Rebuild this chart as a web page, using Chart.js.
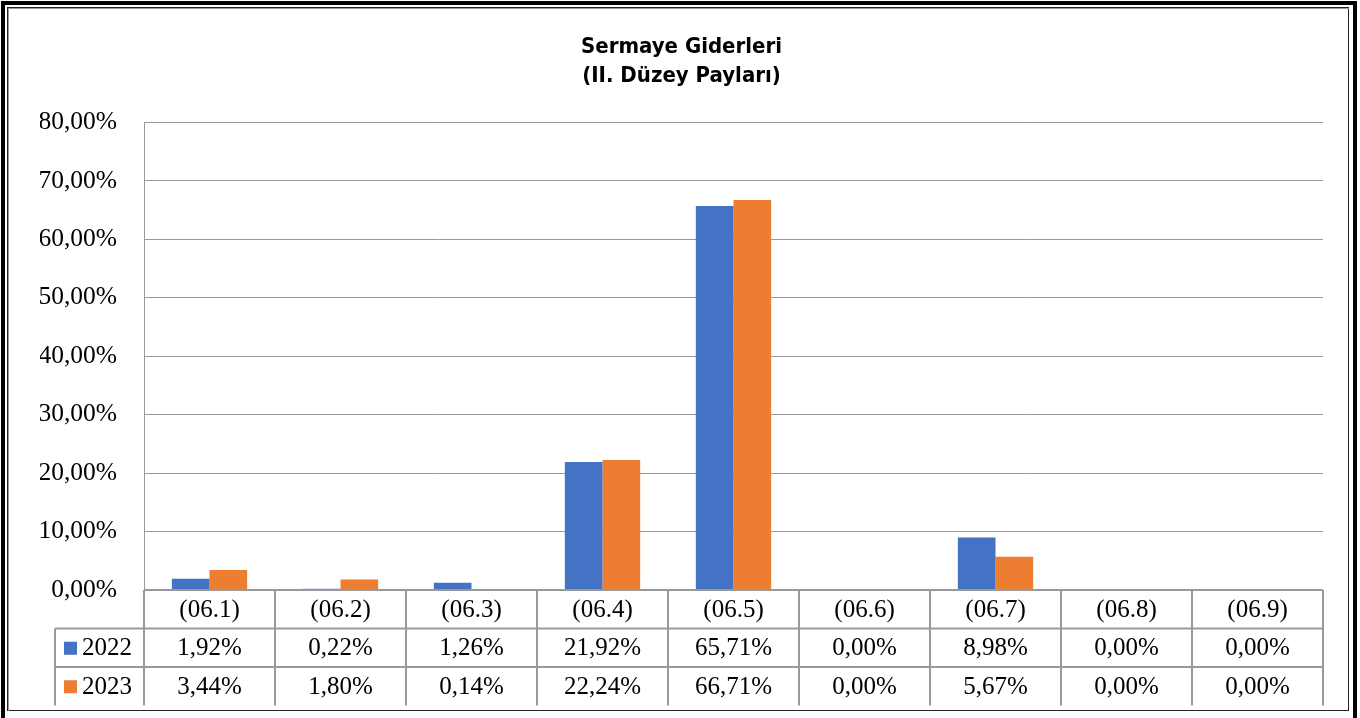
<!DOCTYPE html>
<html>
<head>
<meta charset="utf-8">
<script src="https://cdn.jsdelivr.net/npm/chart.js@4/dist/chart.umd.min.js"></script>
<style>
  body { margin: 0; background: #fff; overflow: hidden; }
  #wrap { position: relative; width: 1360px; height: 718px; }
  #frame { position: absolute; left: 1px; top: 1px; width: 1348px; height: 740px; border: 4px solid #000; pointer-events: none; }
  #inner { position: absolute; left: 7px; top: 7px; width: 1340px; height: 702px; border: 1px solid #222; pointer-events: none; }
  #inner2 { position: absolute; left: 8px; top: 8px; width: 1340px; height: 702px; border: 1px solid #999; border-right: none; border-bottom: none; pointer-events: none; }
</style>
</head>
<body>
<div id="wrap">
  <canvas id="chart" width="1360" height="718"></canvas>
  <div id="frame"></div>
  <div id="inner"></div>
  <div id="inner2"></div>
</div>
<script>
const categories = ["(06.1)", "(06.2)", "(06.3)", "(06.4)", "(06.5)", "(06.6)", "(06.7)", "(06.8)", "(06.9)"];
const values2022 = [1.92, 0.22, 1.26, 21.92, 65.71, 0.00, 8.98, 0.00, 0.00];
const values2023 = [3.44, 1.80, 0.14, 22.24, 66.71, 0.00, 5.67, 0.00, 0.00];
const yTicks = [0, 10, 20, 30, 40, 50, 60, 70, 80];

const blue = "#4472C4";
const orange = "#ED7D31";
const gridColor = "#999";
const serif = "'Liberation Serif', 'Times New Roman', serif";

function pct(v) {
  return v.toFixed(2).replace(".", ",") + "%";
}

// data table under the plot, laid out on the x scale
const dataTable = {
  id: "dataTable",
  afterDraw(chart) {
    const ctx = chart.ctx;
    const xs = chart.scales.x;
    const area = chart.chartArea;
    const w = (area.right - area.left) / categories.length;
    const rowH = 38.5;
    const top = area.bottom;
    const keyLeft = 55;
    const rows = [
      { label: "2022", color: blue, values: values2022 },
      { label: "2023", color: orange, values: values2023 }
    ];

    ctx.save();
    ctx.strokeStyle = gridColor;
    ctx.lineWidth = 2;
    ctx.beginPath();
    ctx.moveTo(area.left, top);
    ctx.lineTo(area.right, top);
    for (let r = 1; r <= rows.length; r++) {
      ctx.moveTo(keyLeft, top + r * rowH);
      ctx.lineTo(area.right, top + r * rowH);
    }
    for (let i = 0; i <= categories.length; i++) {
      const x = i < categories.length ? xs.getPixelForValue(i) - w / 2 : area.right;
      ctx.moveTo(x, top);
      ctx.lineTo(x, top + (rows.length + 1) * rowH);
    }
    ctx.moveTo(keyLeft, top + rowH);
    ctx.lineTo(keyLeft, top + (rows.length + 1) * rowH);
    ctx.stroke();

    ctx.fillStyle = "#000";
    ctx.font = "25px " + serif;
    ctx.textAlign = "center";
    ctx.textBaseline = "middle";
    categories.forEach((c, i) => {
      ctx.fillText(c, xs.getPixelForValue(i), top + rowH / 2 + 1);
    });
    rows.forEach((row, r) => {
      const cy = top + (r + 1.5) * rowH + 1;
      ctx.fillStyle = row.color;
      ctx.fillRect(64, cy - 7, 13, 13);
      ctx.fillStyle = "#000";
      ctx.textAlign = "left";
      ctx.fillText(row.label, 82, cy);
      ctx.textAlign = "center";
      row.values.forEach((v, i) => {
        ctx.fillText(pct(v), xs.getPixelForValue(i), cy);
      });
    });
    ctx.restore();
  }
};

new Chart(document.getElementById("chart"), {
  type: "bar",
  data: {
    labels: categories,
    datasets: [
      { label: "2022", data: values2022, backgroundColor: blue, borderWidth: 0 },
      { label: "2023", data: values2023, backgroundColor: orange, borderWidth: 0 }
    ]
  },
  options: {
    responsive: false,
    animation: false,
    barPercentage: 1,
    categoryPercentage: 0.575,
    layout: { padding: { left: 40, right: 37, top: 0, bottom: 128 } },
    plugins: {
      legend: { display: false },
      tooltip: { enabled: false },
      title: {
        display: true,
        text: ["Sermaye Giderleri", "(II. Düzey Payları)"],
        color: "#000",
        font: { family: "'Liberation Sans Narrow', 'DejaVu Sans Condensed', sans-serif", size: 22, weight: "bold", lineHeight: 1.35 },
        padding: { top: 32, bottom: 31 }
      }
    },
    scales: {
      x: { display: false },
      y: {
        min: 0,
        max: 80,
        afterBuildTicks(scale) {
          scale.ticks = yTicks.map(v => ({ value: v }));
        },
        afterFit(scale) {
          scale.width = 104;
        },
        ticks: {
          color: "#000",
          padding: 27,
          font: { family: serif, size: 25.5 },
          callback: v => pct(v)
        },
        grid: { color: gridColor, drawTicks: false },
        border: { color: gridColor }
      }
    }
  },
  plugins: [dataTable]
});
</script>
</body>
</html>
